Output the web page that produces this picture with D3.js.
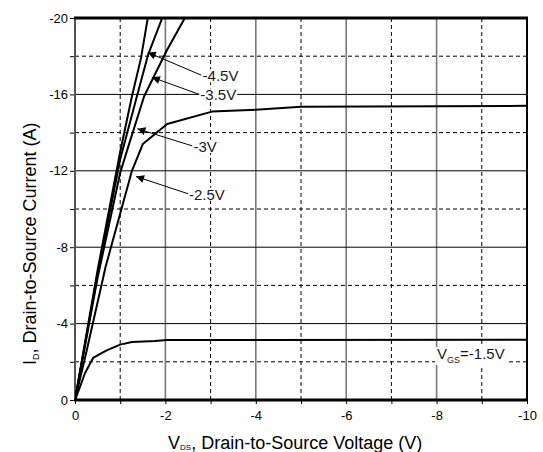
<!DOCTYPE html>
<html><head><meta charset="utf-8">
<script src="https://cdn.jsdelivr.net/npm/d3@7"></script>
<style>body{margin:0;background:#fff;} text{font-family:"Liberation Sans",Arial,sans-serif;}</style>
</head><body>
<svg id="c" width="543" height="452"></svg>
<script>
// Data: VDS magnitude (V) and ID magnitude (A); axes shown as negative values
const vgs45 = [[0,0],[0.5,6.8],[1.0,13.0],[1.26,15.9],[1.46,17.9],[1.61,20]];
const vgs35 = [[0,0],[0.5,6.6],[1.0,12.6],[1.37,15.9],[1.62,18.1],[1.93,20]];
const vgs30 = [[0,0],[0.5,6.4],[1.0,11.9],[1.17,13.2],[1.53,15.9],[2.03,18.3],[2.43,20]];
const vgs25 = [[0,0],[0.25,2.5],[0.68,7.0],[1.04,10.1],[1.26,12.0],[1.5,13.4],[2.04,14.45],[3.03,15.1],[4,15.2],[5,15.35],[10,15.4]];
const vgs15 = [[0,0],[0.11,0.68],[0.22,1.4],[0.4,2.2],[0.7,2.6],[1.0,2.9],[1.26,3.04],[1.77,3.09],[2.03,3.14],[10,3.15]];
const xTicks = [0,2,4,6,8,10];
const yTicks = [0,4,8,12,16,20];
const labels = [
  {text:"-4.5V", tip:[1.61,18.2], from:[2.8,17.0]},
  {text:"-3.5V", tip:[1.7,16.9], from:[2.75,16.0]},
  {text:"-3V",   tip:[1.38,14.2], from:[2.6,13.3]},
  {text:"-2.5V", tip:[1.35,11.7], from:[2.5,10.8]}
];

const svg = d3.select("#c");
const L=75, R=527, T=18, B=400;
const x = d3.scaleLinear().domain([0,10]).range([L,R]);
const y = d3.scaleLinear().domain([0,20]).range([B,T]);

// grid
const g = svg.append("g");
for (let v=1; v<10; v++) {
  g.append("line").attr("x1",x(v)).attr("x2",x(v)).attr("y1",T).attr("y2",B)
   .attr("stroke", v%2===0 ? "#7a7a7a" : "#000")
   .attr("stroke-width", v%2===0 ? 1.6 : 1)
   .attr("stroke-dasharray", v%2===0 ? null : "4,3");
}
for (let a=2; a<20; a+=2) {
  g.append("line").attr("x1",L).attr("x2",R).attr("y1",y(a)).attr("y2",y(a))
   .attr("stroke","#000").attr("stroke-width",1)
   .attr("stroke-dasharray", a%4===0 ? null : "4,3");
}

// axes
const yAxis = d3.axisLeft(y).tickValues(d3.range(0,21,2)).tickSize(5)
  .tickFormat(d => yTicks.includes(d) ? (d===0?"0":"-"+d) : "");
const ya = svg.append("g").attr("transform",`translate(${L},0)`).call(yAxis);
ya.select(".domain").remove();
ya.selectAll("line").attr("stroke","#000");
ya.selectAll("text").attr("font-size",13).attr("fill","#000").attr("x",-7);

const xAxis = d3.axisBottom(x).tickValues(d3.range(0,11,1)).tickSize(4)
  .tickFormat(d => xTicks.includes(d) ? (d===0?"0":"-"+d) : "");
const xa = svg.append("g").attr("transform",`translate(0,${B})`).call(xAxis);
xa.select(".domain").remove();
xa.selectAll("line").attr("stroke","#000");
xa.selectAll("text").attr("font-size",13).attr("fill","#000").attr("y",11);

// frame
svg.append("line").attr("x1",L).attr("x2",L).attr("y1",T).attr("y2",B).attr("stroke","#555").attr("stroke-width",2);
svg.append("line").attr("x1",R).attr("x2",R).attr("y1",T).attr("y2",B).attr("stroke","#000").attr("stroke-width",2);
svg.append("line").attr("x1",L-1).attr("x2",R+1).attr("y1",T).attr("y2",T).attr("stroke","#000").attr("stroke-width",3);
svg.append("line").attr("x1",L-1).attr("x2",R+1).attr("y1",B).attr("y2",B).attr("stroke","#000").attr("stroke-width",3);

// curves
const line = d3.line().x(d=>x(d[0])).y(d=>y(d[1]));
svg.append("defs").append("clipPath").attr("id","clip").append("rect")
  .attr("x",L).attr("y",T).attr("width",R-L).attr("height",B-T);
const cg = svg.append("g").attr("clip-path","url(#clip)");
[vgs45,vgs35,vgs30,vgs25,vgs15].forEach(s=>{
  cg.append("path").datum(s).attr("d",line).attr("fill","none")
    .attr("stroke","#000").attr("stroke-width",2).attr("stroke-linejoin","round");
});

// arrow labels
svg.select("defs").append("marker").attr("id","arr").attr("viewBox","0 0 10 10")
  .attr("refX",10).attr("refY",5).attr("markerWidth",12).attr("markerHeight",8)
  .attr("markerUnits","userSpaceOnUse").attr("orient","auto")
  .append("path").attr("d","M0,0L10,5L0,10Z").attr("fill","#000");
labels.forEach(l=>{
  svg.append("line").attr("x1",x(l.from[0])).attr("y1",y(l.from[1]))
    .attr("x2",x(l.tip[0])).attr("y2",y(l.tip[1]))
    .attr("stroke","#000").attr("stroke-width",1).attr("marker-end","url(#arr)");
  const t = svg.append("text").attr("x",x(l.from[0])+1).attr("y",y(l.from[1])+6)
    .attr("font-size",15).attr("fill","#1a1a1a").text(l.text);
  const bb = t.node().getBBox();
  svg.insert("rect", () => t.node()).attr("x",bb.x-1).attr("y",bb.y+2).attr("width",bb.width+2).attr("height",bb.height-4).attr("fill","#fff");
});

// VGS label
const vt = svg.append("text").attr("x",437).attr("y",359).attr("font-size",15).attr("fill","#1a1a1a");
vt.append("tspan").text("V");
vt.append("tspan").attr("font-size",9).attr("dy",4).text("GS");
vt.append("tspan").attr("dy",-4).text("=-1.5V");
const vb = vt.node().getBBox();
svg.insert("rect", () => vt.node()).attr("x",vb.x-2).attr("y",vb.y+2).attr("width",vb.width+6).attr("height",vb.height-2).attr("fill","#fff");

// axis titles
const xt = svg.append("text").attr("x",168).attr("y",449).attr("font-size",18).attr("fill","#000");
xt.append("tspan").text("V");
xt.append("tspan").attr("font-size",8).attr("dy",1).text("DS");
xt.append("tspan").attr("dy",-1).text(", Drain-to-Source Voltage (V)");

const yt = svg.append("text").attr("transform","translate(36,365) rotate(-90)").attr("font-size",18).attr("fill","#000");
yt.append("tspan").text("I");
yt.append("tspan").attr("font-size",9).attr("dy",3).text("D");
yt.append("tspan").attr("dy",-3).text(", Drain-to-Source Current (A)");
</script>
</body></html>
